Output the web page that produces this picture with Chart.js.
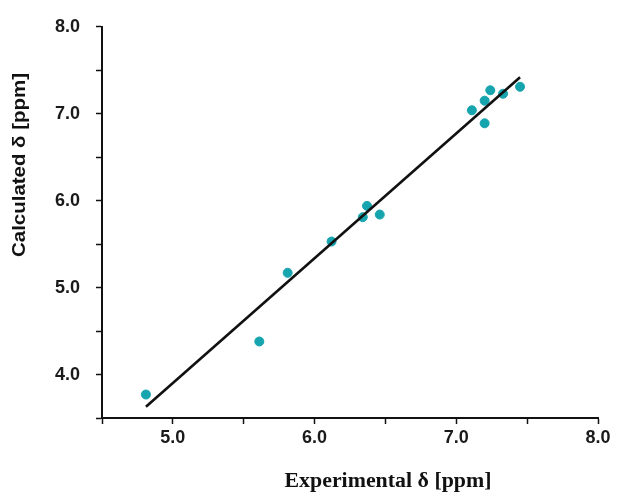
<!DOCTYPE html>
<html>
<head>
<meta charset="utf-8">
<script src="https://cdn.jsdelivr.net/npm/chart.js@4/dist/chart.umd.min.js"></script>
<style>
  html, body { margin: 0; padding: 0; background: #ffffff; }
  #wrap { width: 624px; height: 493px; position: relative; }
</style>
</head>
<body>
<div id="wrap"><canvas id="c" width="624" height="493"></canvas></div>
<script>
// ---- data ----
const experimentalShift = [4.81, 5.61, 5.81, 6.12, 6.34, 6.37, 6.46, 7.11, 7.20, 7.24, 7.33, 7.45, 7.20];
const calculatedShift   = [3.77, 4.38, 5.17, 5.53, 5.81, 5.94, 5.84, 7.04, 7.15, 7.27, 7.23, 7.31, 6.89];
const fitLineX = [4.81, 7.45];
const fitLineY = [3.63, 7.42];
const xTickLabels = ['5.0', '6.0', '7.0', '8.0'];
const yTickLabels = ['4.0', '5.0', '6.0', '7.0', '8.0'];
const xTitle = 'Experimental \u03b4 [ppm]';
const yTitle = 'Calculated \u03b4 [ppm]';

const points = experimentalShift.map((x, i) => ({ x: x, y: calculatedShift[i] }));
const fitPoints = fitLineX.map((x, i) => ({ x: x, y: fitLineY[i] }));

function labelFor(list) {
  return function (v) {
    const s = Number(v).toFixed(1);
    return list.indexOf(s) >= 0 ? s : '';
  };
}

const titlePlugin = {
  id: 'axisTitles',
  afterDraw(chart) {
    const ctx = chart.ctx;
    ctx.save();
    ctx.fillStyle = '#111';
    // x title (serif bold)
    ctx.font = 'bold 20px "Liberation Serif", "DejaVu Serif", serif';
    ctx.textAlign = 'center';
    ctx.textBaseline = 'alphabetic';
    let w = ctx.measureText(xTitle).width;
    let sx = 207 / w;
    ctx.save();
    ctx.translate(388, 487);
    ctx.scale(sx, 1);
    ctx.fillText(xTitle, 0, 0);
    ctx.restore();
    // y title (sans bold, rotated)
    ctx.font = 'bold 18px "Liberation Sans", Arial, sans-serif';
    ctx.textBaseline = 'alphabetic';
    w = ctx.measureText(yTitle).width;
    sx = 184 / w;
    ctx.save();
    ctx.translate(25, 165);
    ctx.rotate(-Math.PI / 2);
    ctx.scale(sx, 1);
    ctx.fillText(yTitle, 0, 0);
    ctx.restore();
    ctx.restore();
  }
};

const tickFont = { family: '"Liberation Sans", Arial, sans-serif', size: 18, weight: 'bold' };

new Chart(document.getElementById('c'), {
  type: 'scatter',
  data: {
    datasets: [
      {
        type: 'line',
        label: 'fit',
        data: fitPoints,
        borderColor: '#111111',
        borderWidth: 2.6,
        pointRadius: 0,
        fill: false,
        order: 1
      },
      {
        label: 'shifts',
        data: points,
        backgroundColor: '#16a4ae',
        borderColor: '#16a4ae',
        borderWidth: 1,
        pointRadius: 4.5,
        pointHoverRadius: 4.5,
        order: 2
      }
    ]
  },
  options: {
    responsive: false,
    animation: false,
    events: [],
    layout: { padding: { left: 0, right: 26, top: 22, bottom: 0 } },
    plugins: {
      legend: { display: false },
      tooltip: { enabled: false }
    },
    scales: {
      x: {
        type: 'linear',
        position: 'bottom',
        min: 4.5,
        max: 8.0,
        afterFit(scale) { scale.height = 75; },
        border: { display: true, color: '#111', width: 2 },
        grid: { display: true, drawOnChartArea: false, drawTicks: true, tickLength: 6, tickColor: '#111', tickWidth: 1.5 },
        ticks: { stepSize: 0.5, autoSkip: false, maxRotation: 0, padding: 3, color: '#1a1a1a', font: tickFont, callback: labelFor(xTickLabels) }
      },
      y: {
        type: 'linear',
        position: 'left',
        min: 3.5,
        max: 8.0,
        afterFit(scale) { scale.width = 102; },
        border: { display: true, color: '#111', width: 2 },
        grid: { display: true, drawOnChartArea: false, drawTicks: true, tickLength: 6, tickColor: '#111', tickWidth: 1.5 },
        ticks: { stepSize: 0.5, autoSkip: false, padding: 16, color: '#1a1a1a', font: tickFont, callback: labelFor(yTickLabels) }
      }
    }
  },
  plugins: [titlePlugin]
});
</script>
</body>
</html>
